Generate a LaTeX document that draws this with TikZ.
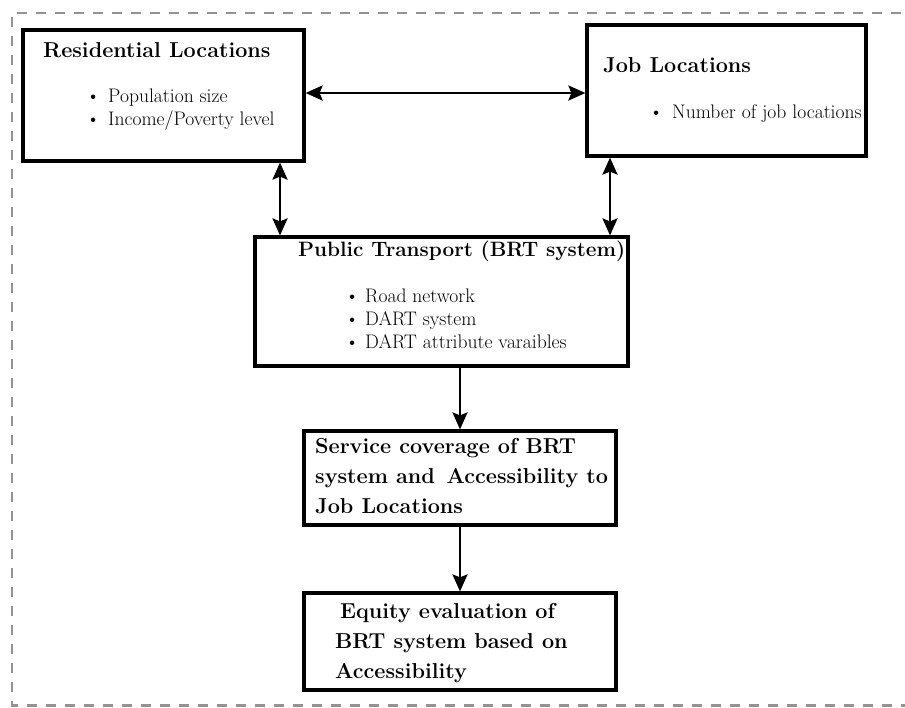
\documentclass[tikz,border=0pt]{standalone}
\usetikzlibrary{arrows.meta}

\newcommand{\bul}[1]{\makebox[#1][l]{\textbullet}}

\tikzset{
  box/.style={draw, line width=3.2pt, inner sep=0pt},
  head/.style={font=\fontsize{21.6}{30}\selectfont\bfseries, align=left, anchor=base west, inner sep=0pt},
  items/.style={font=\fontsize{19.6}{23}\selectfont, align=left, anchor=base west, inner sep=0pt},
  tip/.tip={Stealth[length=17pt,width=15pt,inset=3pt]},
  dbl/.style={tip-tip, line width=2.6pt},
  one/.style={-tip, line width=2.6pt},
  frame/.style={draw=gray!85, line width=2.5pt, dash pattern=on 10pt off 9pt}
}

\begin{document}
\begin{tikzpicture}[x=1pt,y=-1pt]
\useasboundingbox (0,0) rectangle (905,707);
\draw[frame] (920,13) -- (12,13) -- (12,705.5) -- (920,705.5);

% boxes
\node[box, minimum width=281pt, minimum height=131pt] (res) at (163.5,95.5) {};
\node[box, minimum width=279pt, minimum height=131pt] (job) at (726.5,90.5) {};
\node[box, minimum width=373pt, minimum height=129pt] (pt) at (441.5,301.5) {};
\node[box, minimum width=312pt, minimum height=94pt] (svc) at (460,478) {};
\node[box, minimum width=312pt, minimum height=97pt] (eq) at (460,641.5) {};

% texts (base = last line)
\node[head] (resT) at (43,57) {Residential Locations};
\node[items] (resL) at (86,125) {\bul{22pt}Population size\\\bul{22pt}Income/Poverty level};
\node[head] (jobT) at (603,72) {Job Locations};
\node[items] (jobL) at (649,118) {\bul{23pt}Number of job locations};
\node[head, font=\fontsize{20.8}{30}\selectfont\bfseries] (ptT) at (298,256) {Public Transport (BRT system)};
\node[items] (ptL) at (345,348) {\bul{20pt}Road network\\\bul{20pt}DART system\\\bul{20pt}DART attribute varaibles};
\node[head] (svcT) at (315,513) {Service coverage of BRT\\system and\ \,Accessibility to\\Job Locations};
\node[head] (eqT) at (335,678) {\hspace*{5pt}Equity evaluation of\\BRT system based on\\Accessibility};

% connectors
\coordinate (hy) at (0,93);
\coordinate (lx) at (280,0);
\coordinate (rx) at (610,0);
\draw[dbl] (res.east |- hy) -- (job.west |- hy);
\draw[dbl] (res.south -| lx) -- (pt.north -| lx);
\draw[dbl] (job.south -| rx) -- (pt.north -| rx);
\draw[one] (svc.north |- pt.south) -- (svc.north);
\draw[one] (svc.south) -- (eq.north);
\end{tikzpicture}
\end{document}
